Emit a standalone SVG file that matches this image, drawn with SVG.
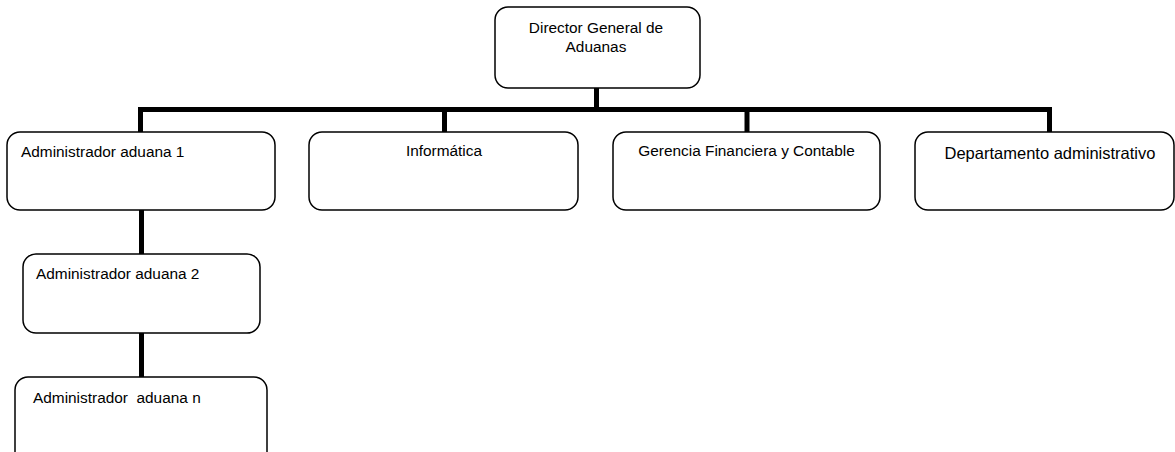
<svg xmlns="http://www.w3.org/2000/svg" width="1175" height="452" viewBox="0 0 1175 452">
  <style>
    .box { fill: #ffffff; stroke: #000000; stroke-width: 1.5; }
    .lbl { font-family: "Liberation Sans", Arial, sans-serif; font-size: 15.4px; fill: #000000; }
    .mid { text-anchor: middle; }
    .wire { fill: none; stroke: #000000; stroke-width: 5; }
  </style>
  <rect width="1175" height="452" fill="#ffffff"/>

  <!-- connectors -->
  <g id="connectors">
    <line class="wire" x1="596.5" y1="88" x2="596.5" y2="110"/>
    <line class="wire" x1="138" y1="109.5" x2="1052" y2="109.5"/>
    <line class="wire" x1="140.5" y1="107" x2="140.5" y2="132"/>
    <line class="wire" x1="444.5" y1="107" x2="444.5" y2="132"/>
    <line class="wire" x1="747" y1="107" x2="747" y2="132"/>
    <line class="wire" x1="1049.5" y1="107" x2="1049.5" y2="132"/>
    <line class="wire" x1="141.5" y1="210" x2="141.5" y2="254"/>
    <line class="wire" x1="141.5" y1="333" x2="141.5" y2="377"/>
  </g>

  <!-- top node -->
  <g id="director">
    <rect class="box" x="495" y="7" width="205" height="81" rx="13"/>
    <text class="lbl mid" x="596" y="33">Director General de</text>
    <text class="lbl mid" x="596" y="52">Aduanas</text>
  </g>

  <!-- second level -->
  <g id="admin1">
    <rect class="box" x="7" y="132" width="268" height="78" rx="13"/>
    <text class="lbl" x="21" y="157">Administrador aduana 1</text>
  </g>
  <g id="informatica">
    <rect class="box" x="309" y="132" width="269" height="78" rx="13"/>
    <text class="lbl mid" x="444" y="156">Informática</text>
  </g>
  <g id="gerencia">
    <rect class="box" x="613" y="132" width="267" height="78" rx="13"/>
    <text class="lbl mid" x="746.5" y="156">Gerencia Financiera y Contable</text>
  </g>
  <g id="departamento">
    <rect class="box" x="915" y="132" width="259" height="78" rx="13"/>
    <text class="lbl mid" x="1050" y="159" style="font-size:16.5px">Departamento administrativo</text>
  </g>

  <!-- customs offices chain -->
  <g id="admin2">
    <rect class="box" x="23" y="254" width="237" height="79" rx="13"/>
    <text class="lbl" x="36" y="279">Administrador aduana 2</text>
  </g>
  <g id="adminN">
    <rect class="box" x="15" y="377" width="252" height="90" rx="13"/>
    <text class="lbl" x="33" y="403" xml:space="preserve">Administrador  aduana n</text>
  </g>
</svg>
